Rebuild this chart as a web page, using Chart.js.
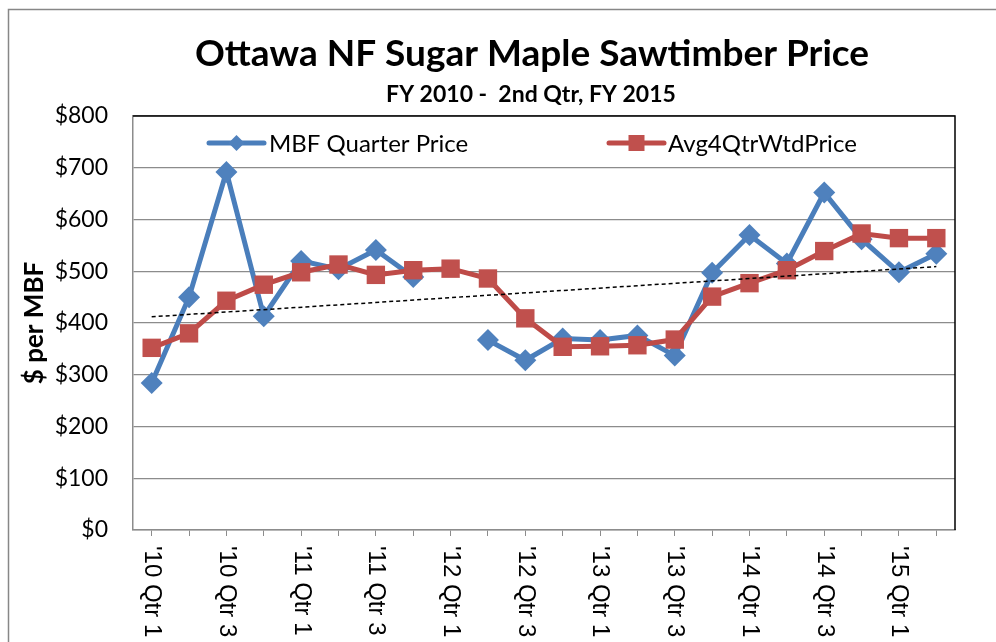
<!DOCTYPE html>
<html><head><meta charset="utf-8">
<script src="https://cdn.jsdelivr.net/npm/chart.js@4.4.1/dist/chart.umd.min.js"></script>
<style>html,body{margin:0;padding:0;background:#fff;overflow:hidden;}</style>
</head><body>
<canvas id="c" width="996" height="642" style="width:996px;height:642px;display:block"></canvas>
<script>
// ---- data ----
const categories = [
  "'10 Qtr 1","'10 Qtr 2","'10 Qtr 3","'10 Qtr 4",
  "'11 Qtr 1","'11 Qtr 2","'11 Qtr 3","'11 Qtr 4",
  "'12 Qtr 1","'12 Qtr 2","'12 Qtr 3","'12 Qtr 4",
  "'13 Qtr 1","'13 Qtr 2","'13 Qtr 3","'13 Qtr 4",
  "'14 Qtr 1","'14 Qtr 2","'14 Qtr 3","'14 Qtr 4",
  "'15 Qtr 1","'15 Qtr 2"
];
const quarterPrice = [284, 450, 692, 413, 520, 504, 541, 489, null, 367, 328, 370,
                      367, 376, 337, 497, 570, 515, 652, 562, 498, 534];
const avg4QtrWtdPrice = [352, 380, 443, 474, 498, 513, 493, 502, 505, 486, 409, 354,
                         355, 357, 368, 451, 477, 502, 539, 573, 564, 564];
const trendStartEnd = [412, 509];
const yTicks = [0, 100, 200, 300, 400, 500, 600, 700, 800];

const titleText = "Ottawa NF Sugar Maple Sawtimber Price";
const subtitleText = "FY 2010 -  2nd Qtr, FY 2015";
const yTitle = "$ per MBF";
const seriesNames = ["MBF Quarter Price", "Avg4QtrWtdPrice"];

// ---- derived ----
const trendData = categories.map((c, i) =>
  i === 0 ? trendStartEnd[0] : (i === categories.length - 1 ? trendStartEnd[1] : null));

const FONT = 'Lato, "Open Sans", sans-serif';
const BLUE = '#4A7EBB', BLUE_F = '#4F81BD';
const RED = '#BE4B48', RED_F = '#C0504D';

const outerFrame = {
  id: 'outerFrame',
  beforeDraw(chart) {
    const ctx = chart.ctx;
    ctx.save();
    ctx.fillStyle = '#fff';
    ctx.fillRect(0, 0, chart.width, chart.height);
    ctx.strokeStyle = '#878787';
    ctx.lineWidth = 1.5;
    ctx.strokeRect(8.5, 9.5, chart.width + 20, chart.height + 20);
    ctx.restore();
  },
  beforeDatasetsDraw(chart) {
    const {ctx, chartArea: a} = chart;
    ctx.save();
    ctx.strokeStyle = '#000';
    ctx.lineWidth = 1.5;
    ctx.beginPath();
    ctx.moveTo(a.left, a.top);
    ctx.lineTo(a.right, a.top);
    ctx.lineTo(a.right, a.bottom);
    ctx.stroke();
    ctx.restore();
  }
};

const titles = {
  id: 'titles',
  afterDraw(chart) {
    const ctx = chart.ctx;
    ctx.save();
    ctx.fillStyle = '#000';
    ctx.textAlign = 'center';
    ctx.textBaseline = 'middle';
    ctx.font = 'bold 37px ' + FONT;
    ctx.fillText(titleText, 532, 54);
    ctx.font = 'bold 23px ' + FONT;
    ctx.fillText(subtitleText, 531, 95);
    ctx.restore();
  }
};

const xLabels = {
  id: 'xLabels',
  afterDraw(chart) {
    const ctx = chart.ctx;
    const xs = chart.scales.x;
    ctx.save();
    ctx.fillStyle = '#000';
    ctx.font = '24px "Liberation Sans", Arial, sans-serif';
    ctx.textAlign = 'left';
    ctx.textBaseline = 'middle';
    categories.forEach((lab, i) => {
      if (i % 2 !== 0) return;
      const x = xs.getPixelForValue(i);
      ctx.save();
      ctx.translate(x, xs.top + 16);
      ctx.rotate(Math.PI / 2);
      ctx.fillText(lab, 0, 0);
      ctx.restore();
    });
    ctx.restore();
  }
};

const legendInside = {
  id: 'legendInside',
  afterDraw(chart) {
    const {ctx, chartArea: a} = chart;
    const y = a.top + 27;
    ctx.save();
    ctx.lineWidth = 5;
    ctx.lineCap = 'round';
    // blue
    let x0 = a.left + 76;
    ctx.strokeStyle = BLUE;
    ctx.beginPath(); ctx.moveTo(x0, y); ctx.lineTo(x0 + 55, y); ctx.stroke();
    ctx.fillStyle = BLUE_F;
    const cx = x0 + 27.5, r = 8;
    ctx.beginPath(); ctx.moveTo(cx, y - r); ctx.lineTo(cx + r, y); ctx.lineTo(cx, y + r); ctx.lineTo(cx - r, y); ctx.closePath(); ctx.fill();
    ctx.fillStyle = '#000';
    ctx.font = '24px ' + FONT;
    ctx.textBaseline = 'middle';
    ctx.textAlign = 'left';
    ctx.fillText(seriesNames[0], x0 + 60, y + 1);
    // red
    x0 = a.left + 476;
    ctx.strokeStyle = RED;
    ctx.beginPath(); ctx.moveTo(x0, y); ctx.lineTo(x0 + 55, y); ctx.stroke();
    ctx.fillStyle = RED_F;
    ctx.fillRect(x0 + 19.5, y - 8, 16, 16);
    ctx.fillStyle = '#000';
    ctx.fillText(seriesNames[1], x0 + 59, y + 1);
    ctx.restore();
  }
};

new Chart(document.getElementById('c'), {
  type: 'line',
  data: {
    labels: categories,
    datasets: [
      {
        label: 'Linear trend',
        data: trendData,
        spanGaps: true,
        borderColor: '#000',
        borderWidth: 1.5,
        borderDash: [4, 3],
        pointRadius: 0,
        fill: false,
        order: 0
      },
      {
        label: seriesNames[1],
        data: avg4QtrWtdPrice,
        borderColor: RED,
        backgroundColor: RED_F,
        borderWidth: 5,
        pointStyle: 'rect',
        pointRadius: 13,
        pointBorderWidth: 0,
        pointBackgroundColor: RED_F,
        fill: false,
        tension: 0,
        order: 1
      },
      {
        label: seriesNames[0],
        data: quarterPrice,
        borderColor: BLUE,
        backgroundColor: BLUE_F,
        borderWidth: 5,
        pointStyle: 'rectRot',
        pointRadius: 11,
        pointBorderWidth: 0,
        pointBackgroundColor: BLUE_F,
        spanGaps: false,
        fill: false,
        tension: 0,
        order: 2
      }
    ]
  },
  options: {
    responsive: false,
    devicePixelRatio: 1,
    animation: false,
    layout: { padding: { left: 0, right: 41, top: 116, bottom: 0 } },
    plugins: {
      legend: { display: false },
      tooltip: { enabled: false },
      title: { display: false },
      subtitle: { display: false }
    },
    scales: {
      x: {
        type: 'category',
        offset: true,
        grid: {
          display: true,
          offset: false,
          drawOnChartArea: false,
          drawTicks: true,
          tickLength: 6,
          color: '#8c8c8c',
          lineWidth: 1
        },
        border: { display: true, color: '#8c8c8c', width: 1.5 },
        ticks: { display: false, autoSkip: false },
        afterFit(scale) { scale.height = 112; }
      },
      y: {
        min: 0,
        max: 800,
        afterBuildTicks(scale) { scale.ticks = yTicks.map(v => ({ value: v })); },
        grid: { color: '#8c8c8c', lineWidth: 1.3, drawTicks: false },
        border: { display: true, color: '#8c8c8c', width: 1.5 },
        ticks: {
          padding: 25,
          color: '#000',
          font: { family: FONT, size: 23 },
          callback: v => '$' + v
        },
        title: {
          display: true,
          text: yTitle,
          color: '#000',
          font: { family: FONT, size: 26, weight: 'bold', lineHeight: 1.2 },
          padding: { top: 19, bottom: 0 }
        },
        afterFit(scale) { scale.width = 133; }
      }
    }
  },
  plugins: [outerFrame, titles, xLabels, legendInside]
});
</script>
</body></html>
